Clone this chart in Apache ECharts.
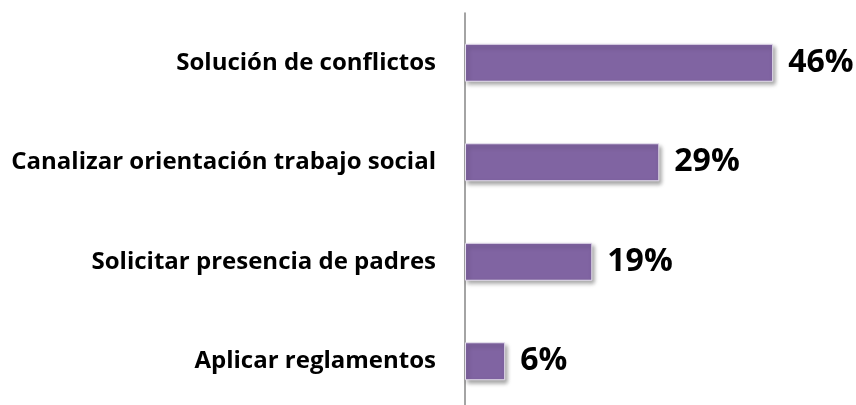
<!DOCTYPE html>
<html>
<head>
<meta charset="utf-8">
<script src="https://cdn.jsdelivr.net/npm/echarts@6/dist/echarts.min.js"></script>
<style>
  html, body { margin: 0; padding: 0; background: #fff; overflow: hidden; }
  /* plot area runs a few pixels past the bottom edge of the window */
  #chart { width: 856px; height: 411px; }
</style>
</head>
<body>
<div id="chart"></div>
<script>
// Categories from top to bottom and their percentages
const categories = [
  'Solución de conflictos',
  'Canalizar orientación trabajo social',
  'Solicitar presencia de padres',
  'Aplicar reglamentos'
];
const percentages = [46, 29, 19, 6];

const chart = echarts.init(document.getElementById('chart'));
chart.setOption({
  animation: false,
  grid: { left: 465, right: 56, top: 13, bottom: 0, containLabel: false },
  xAxis: {
    type: 'value', min: 0, max: 50, show: false
  },
  yAxis: {
    type: 'category',
    data: categories,
    inverse: true,
    axisLine: { show: true, lineStyle: { color: '#868686', width: 1.5 } },
    axisTick: { show: false },
    axisLabel: {
      margin: 29,
      color: '#000',
      fontFamily: 'Open Sans',
      fontWeight: 'bold',
      fontSize: 24
    }
  },
  series: [{
    type: 'bar',
    data: percentages,
    barWidth: 38,
    itemStyle: {
      color: '#8064A2',
      borderColor: '#e6e0ee',
      borderWidth: 1,
      shadowColor: 'rgba(0,0,0,0.35)',
      shadowBlur: 4,
      shadowOffsetX: 2,
      shadowOffsetY: 3
    },
    label: {
      show: true,
      position: 'right',
      distance: 15,
      formatter: p => p.value + '%',
      color: '#000',
      fontFamily: 'Open Sans',
      fontWeight: 'bold',
      fontSize: 32
    }
  }]
});
</script>
</body>
</html>
